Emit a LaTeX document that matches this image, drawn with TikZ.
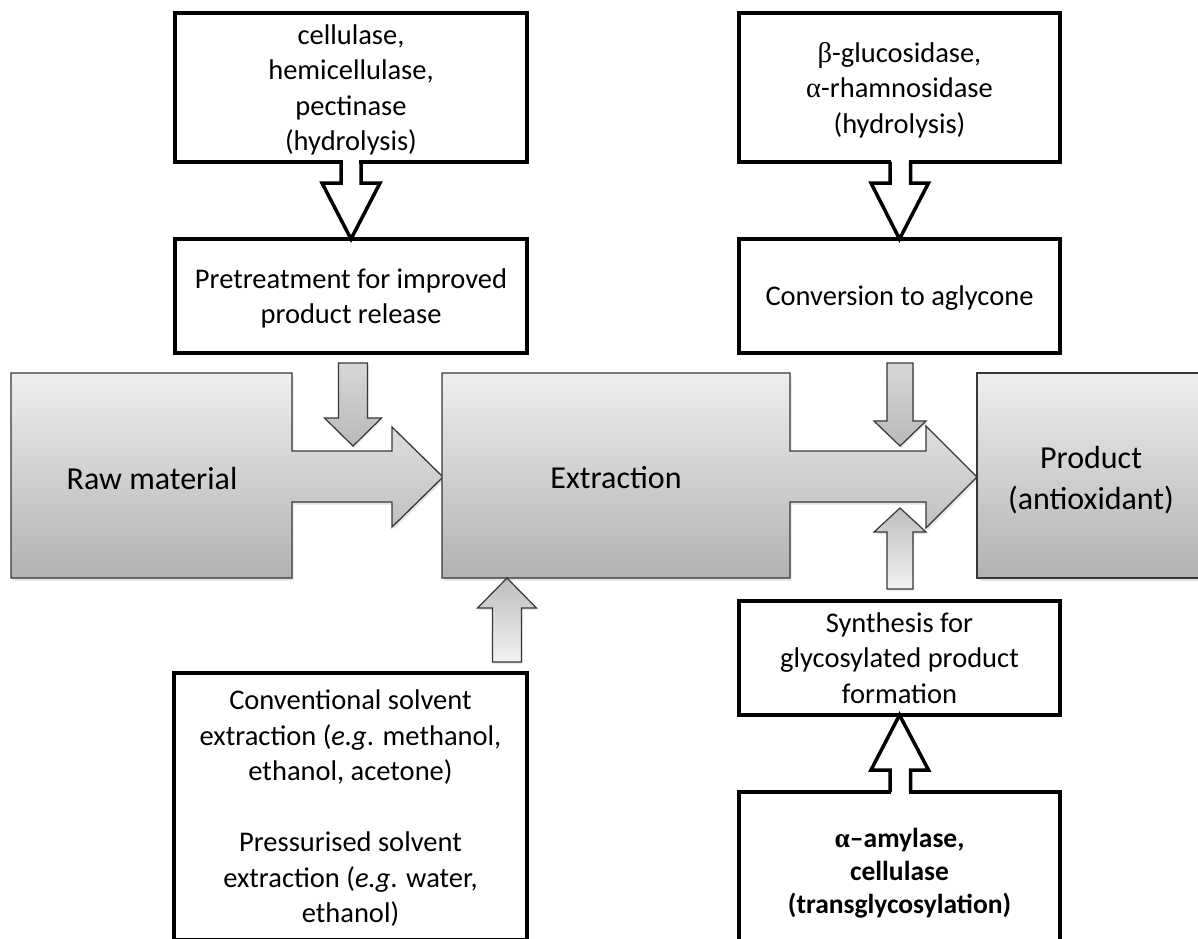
\documentclass[tikz,border=0pt]{standalone}
\usepackage{fontspec}
\setmainfont{Carlito}
\newfontfamily\grk{Liberation Serif}
\usetikzlibrary{shadows,calc}
\definecolor{gtop}{RGB}{238,238,238}
\definecolor{gbot}{RGB}{178,178,178}
\definecolor{edgegray}{RGB}{55,55,55}
\definecolor{atop}{RGB}{215,215,215}
\definecolor{abot}{RGB}{185,185,185}
\definecolor{utop}{RGB}{190,190,190}
\definecolor{ubot}{RGB}{242,242,242}
\tikzset{
  txtbox/.style={draw=black, line width=3.5pt, fill=white, rectangle, inner sep=0pt, outer sep=0pt,
    align=center, text depth=0pt, font=\fontsize{28.5}{35.5}\selectfont},
  block/.style={draw=edgegray, line width=1.3pt, line join=miter, top color=gtop, bottom color=gbot,
    drop shadow={opacity=0.22, shadow xshift=1.5pt, shadow yshift=-2.5pt}},
  downarrow/.style={draw=edgegray, line width=1.2pt, top color=atop, bottom color=abot,
    drop shadow={opacity=0.2, shadow xshift=1pt, shadow yshift=-2pt}},
  uparrow/.style={draw=edgegray, line width=1.2pt, top color=utop, bottom color=ubot,
    drop shadow={opacity=0.2, shadow xshift=1pt, shadow yshift=-2pt}},
  hollow/.style={draw=black, line width=3.5pt, line join=miter},
  bigtext/.style={font=\fontsize{32}{41}\selectfont, align=center, inner sep=0pt},
}
\begin{document}
\begin{tikzpicture}[x=1pt,y=-1pt]
\useasboundingbox (0,0) rectangle (1198,938);
\clip (0,0) rectangle (1198,938);

% gray process blocks
\path[block] (11,373) -- (292,373) -- (292,451) -- (392,451) -- (392,427) -- (443,477)
  -- (392,527) -- (392,502) -- (292,502) -- (292,578) -- (11,578) -- cycle;
\path[block] (442,373) -- (790,373) -- (790,451) -- (926,451) -- (926,426) -- (977,477)
  -- (926,528) -- (926,502) -- (790,502) -- (790,578) -- (442,578) -- cycle;
\path[block] (977,373) rectangle (1212,578);

\node[bigtext] (raw) at (152,478) {Raw material};
\node[bigtext] (extr) at (616,478) {Extraction};
\node[bigtext] (prod) at (1091,480) {Product\\(antioxidant)};

% text boxes
\node[txtbox, minimum width=352pt, minimum height=149pt] (enzA) at (351,87.5)
  {cellulase,\\hemicellulase,\\pectinase\\(hydrolysis)};
\node[txtbox, minimum width=352pt, minimum height=114pt] (pre) at (351,296)
  {Pretreatment for improved\\product release};
\node[txtbox, minimum width=321pt, minimum height=149pt] (enzB) at (899.5,87.5)
  {{\grk β}-glucosidase,\\{\grk α}-rhamnosidase\\(hydrolysis)};
\node[txtbox, minimum width=321pt, minimum height=114pt] (conv) at (899.5,296)
  {Conversion to aglycone};
\node[txtbox, minimum width=321pt, minimum height=114pt] (synth) at (899.5,658)
  {Synthesis for\\glycosylated product\\formation};
\node[txtbox, minimum width=321pt, minimum height=158pt, font=\fontsize{27.5}{33}\selectfont\bfseries] (enzC) at (899.5,871)
  {{\grk\bfseries α}–amylase,\\cellulase\\(transglycosylation)};
\node[txtbox, minimum width=353pt, minimum height=267pt] (solv) at (350.5,806.5)
  {Conventional solvent\\extraction (\textit{e.g}. methanol,\\ethanol, acetone)\\[35.5pt]
   Pressurised solvent\\extraction (\textit{e.g}. water,\\ethanol)};

% hollow arrows joining text boxes
\fill[white] ($(enzA.south)+(-8.2,-3)$) rectangle ($(enzA.south)+(8.2,4)$);
\path[hollow] ($(enzA.south)+(-10,0)$) -- ++(0,21) -- ++(-19,0) -- (pre.north)
  -- ++(29,-56) -- ++(-19,0) -- ++(0,-21);
\fill[white] ($(enzB.south)+(-8.7,-3)$) rectangle ($(enzB.south)+(9.7,4)$);
\path[hollow] ($(enzB.south)+(-9.5,0)$) -- ++(0,21) -- ++(-19,0) -- (conv.north)
  -- ++(29,-56) -- ++(-18,0) -- ++(0,-21);
\fill[white] ($(enzC.north)+(-8.7,3)$) rectangle ($(enzC.north)+(9.7,-4)$);
\path[hollow] ($(enzC.north)+(-9.5,0)$) -- ++(0,-22) -- ++(-19,0) -- (synth.south)
  -- ++(29,55) -- ++(-18,0) -- ++(0,22);

% small gray arrows
\coordinate (tA) at (353,446);
\path[downarrow] (tA) -- ++(28.5,-28) -- ++(-14,0) -- ++(0,-55) -- ++(-29,0)
  -- ++(0,55) -- ++(-14,0) -- cycle;
\coordinate (tB) at (900,446);
\path[downarrow] (tB) -- ++(26,-25) -- ++(-13,0) -- ++(0,-58) -- ++(-26,0)
  -- ++(0,58) -- ++(-13,0) -- cycle;
\coordinate (tC) at (507,578);
\path[uparrow] (tC) -- ++(29.5,30) -- ++(-15,0) -- ++(0,54) -- ++(-29,0)
  -- ++(0,-54) -- ++(-15,0) -- cycle;
\coordinate (tD) at (900,508);
\path[uparrow] (tD) -- ++(26,24) -- ++(-13,0) -- ++(0,57) -- ++(-26,0)
  -- ++(0,-57) -- ++(-13,0) -- cycle;
\end{tikzpicture}
\end{document}
